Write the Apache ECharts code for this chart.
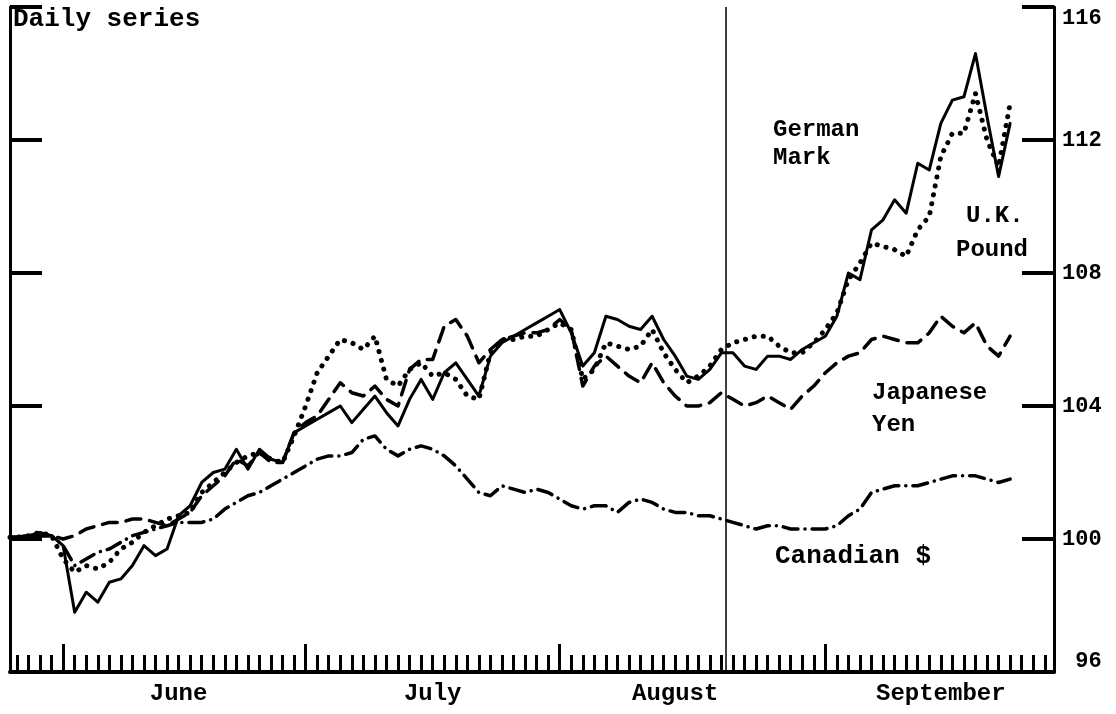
<!DOCTYPE html>
<html>
<head>
<meta charset="utf-8">
<title>Daily series</title>
<script src="https://cdn.jsdelivr.net/npm/echarts@6/dist/echarts.min.js"></script>
<style>
  html, body { margin: 0; padding: 0; background: #fff; }
  #chart { width: 1116px; height: 714px; }
</style>
</head>
<body>
<div id="chart"></div>
<script>
// business days on the x axis; first entry of each series sits on the left axis
const X_MIN = -0.6
const X_MAX = 89.8
const monthStarts = [4, 25, 47, 70]
const monthLabelAt = [14, 36, 57, 80]
const monthNames = ['June', 'July', 'August', 'September']
const eventDay = 61.4
const yTicks = [96, 100, 104, 108, 112, 116]

const germanMark = [100.05, 100.05, 100.1, 100.2, 100.1, 99.8, 97.8, 98.4, 98.1, 98.7, 98.8,
  99.2, 99.8, 99.5, 99.7, 100.7, 101.0, 101.7, 102.0, 102.1, 102.7,
  102.1, 102.7, 102.4, 102.3, 103.2, 103.4, 103.6, 103.8, 104.0, 103.5,
  103.9, 104.3, 103.8, 103.4, 104.2, 104.8, 104.2, 105.0, 105.3, 104.8,
  104.3, 105.5, 105.9, 106.1, 106.3, 106.5, 106.7, 106.9, 106.2, 105.2,
  105.6, 106.7, 106.6, 106.4, 106.3, 106.7, 106.0, 105.5, 104.9, 104.8,
  105.1, 105.6, 105.6, 105.2, 105.1, 105.5, 105.5, 105.4, 105.7, 105.9,
  106.1, 106.7, 108.0, 107.8, 109.3, 109.6, 110.2, 109.8, 111.3, 111.1,
  112.5, 113.2, 113.3, 114.6, 112.7, 110.9, 112.5]

const ukPound = [100.05, 100.05, 100.1, 100.2, 100.1, 99.4, 99.0, 99.2, 99.1, 99.3, 99.7,
  99.9, 100.2, 100.4, 100.6, 100.7, 100.8, 101.4, 101.7, 102.0, 102.3,
  102.5, 102.6, 102.4, 102.3, 103.1, 104.0, 105.0, 105.5, 106.0, 105.9,
  105.7, 106.1, 104.8, 104.6, 105.1, 105.3, 104.9, 105.0, 104.8, 104.3,
  104.2, 105.6, 106.0, 106.0, 106.1, 106.1, 106.3, 106.5, 106.3, 104.8,
  105.1, 105.9, 105.8, 105.7, 105.8, 106.3, 105.6, 105.1, 104.7, 104.9,
  105.2, 105.7, 105.9, 106.0, 106.1, 106.1, 105.8, 105.6, 105.6, 105.9,
  106.3, 106.8, 107.8, 108.3, 108.9, 108.8, 108.7, 108.5, 109.3, 109.7,
  111.5, 112.2, 112.2, 113.4, 112.0, 111.2, 113.1]

const japaneseYen = [100.05, 100.05, 100.1, 100.1, 100.1, 100.0, 100.1, 100.3, 100.4, 100.5, 100.5,
  100.6, 100.6, 100.5, 100.4, 100.6, 100.8, 101.3, 101.6, 101.9, 102.4,
  102.2, 102.6, 102.3, 102.3, 103.2, 103.5, 103.7, 104.2, 104.7, 104.4,
  104.3, 104.6, 104.2, 104.0, 105.1, 105.4, 105.4, 106.4, 106.6, 106.1,
  105.3, 105.7, 106.0, 106.1, 106.2, 106.2, 106.3, 106.6, 106.3, 104.6,
  105.2, 105.5, 105.2, 104.9, 104.7, 105.3, 104.7, 104.3, 104.0, 104.0,
  104.1, 104.4, 104.2, 104.0, 104.1, 104.3, 104.1, 103.9, 104.3, 104.6,
  105.0, 105.3, 105.5, 105.6, 106.0, 106.1, 106.0, 105.9, 105.9, 106.2,
  106.7, 106.4, 106.2, 106.5, 105.8, 105.5, 106.1]

const canadianDollar = [100.05, 100.05, 100.1, 100.1, 100.1, 99.8, 99.2, 99.4, 99.6, 99.7, 99.9,
  100.1, 100.2, 100.3, 100.4, 100.5, 100.5, 100.5, 100.6, 100.9, 101.1,
  101.3, 101.4, 101.6, 101.8, 102.0, 102.2, 102.4, 102.5, 102.5, 102.6,
  103.0, 103.1, 102.7, 102.5, 102.7, 102.8, 102.7, 102.5, 102.2, 101.8,
  101.4, 101.3, 101.6, 101.5, 101.4, 101.5, 101.4, 101.2, 101.0, 100.9,
  101.0, 101.0, 100.8, 101.1, 101.2, 101.1, 100.9, 100.8, 100.8, 100.7,
  100.7, 100.6, 100.5, 100.4, 100.3, 100.4, 100.4, 100.3, 100.3, 100.3,
  100.3, 100.4, 100.7, 100.9, 101.4, 101.5, 101.6, 101.6, 101.6, 101.7,
  101.8, 101.9, 101.9, 101.9, 101.8, 101.7, 101.8]

const FONT = "'Liberation Mono', 'DejaVu Sans Mono', monospace"
const INK = '#000'

const toPairs = (arr) => arr.map((v, k) => [k === 0 ? X_MIN : k - 1, v])

const dayTicks = []
for (let d = 0; d <= Math.floor(X_MAX); d++) dayTicks.push(d)

const lineSeries = (name, values, width, dash) => ({
  name,
  type: 'line',
  xAxisIndex: 0,
  yAxisIndex: 1,
  data: toPairs(values),
  showSymbol: false,
  symbol: 'none',
  smooth: false,
  lineStyle: {color: INK, width, type: dash, cap: 'round', join: 'round'},
  z: 3,
})

const chart = echarts.init(document.getElementById('chart'), null, {renderer: 'canvas'})

chart.setOption({
  animation: false,
  backgroundColor: '#fff',
  grid: {left: 10, right: 62, top: 7, bottom: 42, containLabel: false},
  xAxis: [
    {
      type: 'value',
      min: X_MIN,
      max: X_MAX,
      position: 'bottom',
      axisLine: {show: true, onZero: false, lineStyle: {color: INK, width: 4}},
      axisTick: {show: true, inside: true, length: 17, customValues: dayTicks, lineStyle: {color: INK, width: 3}},
      axisLabel: {show: false},
      splitLine: {show: false},
    },
    {
      type: 'value',
      min: X_MIN,
      max: X_MAX,
      position: 'bottom',
      axisLine: {show: false, onZero: false},
      axisTick: {show: true, inside: true, length: 28, customValues: monthStarts, lineStyle: {color: INK, width: 3}},
      axisLabel: {
        show: true,
        customValues: monthLabelAt,
        margin: 10,
        formatter: (v) => monthNames[monthLabelAt.indexOf(v)] || '',
        color: INK,
        fontFamily: FONT,
        fontWeight: 'bold',
        fontSize: 24,
      },
      splitLine: {show: false},
    },
  ],
  yAxis: [
    {
      type: 'value',
      position: 'left',
      min: 96,
      max: 116,
      interval: 4,
      axisLine: {show: true, onZero: false, lineStyle: {color: INK, width: 3}},
      axisTick: {show: true, inside: true, length: 32, lineStyle: {color: INK, width: 4}},
      axisLabel: {show: false},
      splitLine: {show: false},
    },
    {
      type: 'value',
      position: 'right',
      min: yTicks[0],
      max: yTicks[yTicks.length - 1],
      interval: 4,
      axisLine: {show: true, onZero: false, lineStyle: {color: INK, width: 3}},
      axisTick: {show: true, inside: true, length: 32, lineStyle: {color: INK, width: 4}},
      axisLabel: {
        show: true,
        margin: 8,
        color: INK,
        fontFamily: FONT,
        fontWeight: 'bold',
        fontSize: 22,
        formatter: (v) => String(v).padStart(3, ' '),
        verticalAlignMaxLabel: 'top',
        verticalAlignMinLabel: 'bottom',
      },
      splitLine: {show: false},
    },
  ],
  series: [
    {
      ...lineSeries('German Mark', germanMark, 3, 'solid'),
      markLine: {
        silent: true,
        symbol: 'none',
        label: {show: false},
        lineStyle: {color: INK, width: 1.5, type: 'solid'},
        data: [{xAxis: eventDay}],
      },
    },
    lineSeries('U.K. Pound', ukPound, 5, [0.1, 9]),
    lineSeries('Japanese Yen', japaneseYen, 3.5, [15, 9]),
    lineSeries('Canadian $', canadianDollar, 3.5, [15, 7, 0.1, 7]),
  ],
  graphic: [
    {type: 'text', left: 13, top: 6, style: {text: 'Daily series', font: `bold 26px ${FONT}`, fill: INK}},
    {type: 'text', left: 773, top: 116, style: {text: 'German\nMark', font: `bold 24px ${FONT}`, lineHeight: 28, fill: INK}},
    {type: 'text', left: 966, top: 204, style: {text: 'U.K.', font: `bold 24px ${FONT}`, fill: INK}},
    {type: 'text', left: 956, top: 238, style: {text: 'Pound', font: `bold 24px ${FONT}`, fill: INK}},
    {type: 'text', left: 872, top: 377, style: {text: 'Japanese\nYen', font: `bold 24px ${FONT}`, lineHeight: 32, fill: INK}},
    {type: 'text', left: 775, top: 543, style: {text: 'Canadian $', font: `bold 26px ${FONT}`, fill: INK}},
  ],
})
</script>
</body>
</html>
